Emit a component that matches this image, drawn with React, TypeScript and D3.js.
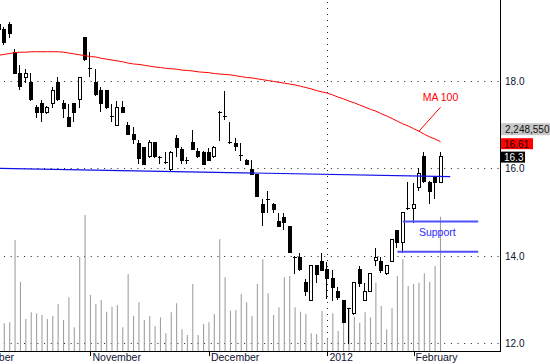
import React from 'react';
import * as d3 from 'd3';

// ---- data (bar index -1 .. 81) ----
const opens = [19.31, 19.18, 19.31, 18.67, 18.19, 18.09, 17.98, 17.40, 17.49, 17.28, 17.49, 17.98, 17.50, 17.18, 17.49, 17.58, 19.00, 18.29, 17.98, 17.79, 17.79, 17.19, 16.99, 17.40, 16.99, 16.79, 16.59, 16.50, 16.28, 16.60, 16.27, 16.15, 15.98, 16.69, 16.44, 16.20, 16.60, 16.39, 16.37, 16.38, 16.28, 17.30, 17.20, 16.60, 16.58, 16.31, 16.19, 15.99, 15.87, 15.18, 15.30, 15.18, 14.79, 14.89, 14.68, 13.98, 13.98, 13.40, 12.99, 13.78, 13.88, 13.69, 13.49, 13.18, 12.99, 12.80, 12.68, 13.69, 12.99, 13.19, 13.89, 13.88, 13.60, 13.88, 14.59, 14.31, 15.09, 15.09, 15.58, 16.28, 15.69, 15.80, 15.69];
const highs = [19.40, 19.24, 19.35, 18.73, 18.37, 18.27, 18.18, 17.45, 17.57, 17.43, 17.86, 18.09, 17.57, 17.47, 17.50, 18.10, 19.01, 18.67, 18.27, 17.86, 17.80, 17.47, 17.55, 17.55, 17.07, 16.95, 16.65, 16.50, 16.65, 16.61, 16.28, 16.37, 16.39, 16.76, 16.50, 16.25, 16.88, 16.46, 16.40, 16.47, 16.51, 17.31, 17.78, 17.07, 16.70, 16.57, 16.21, 16.19, 15.88, 15.29, 15.47, 15.21, 14.98, 14.98, 14.69, 13.99, 14.07, 13.46, 13.79, 13.79, 14.07, 13.86, 13.67, 13.28, 12.99, 12.81, 13.39, 13.76, 13.37, 13.60, 14.17, 13.98, 13.78, 14.38, 14.59, 15.01, 15.69, 15.66, 16.00, 16.38, 15.70, 15.81, 16.38];
const lows = [19.15, 18.85, 19.00, 18.18, 17.81, 17.98, 17.57, 17.18, 17.09, 17.26, 17.40, 17.57, 17.18, 16.97, 17.09, 17.40, 18.49, 18.12, 17.69, 17.31, 17.39, 17.09, 16.99, 17.28, 16.78, 16.59, 16.12, 16.09, 16.27, 16.27, 16.12, 16.12, 15.94, 16.28, 16.12, 16.13, 16.44, 16.26, 16.09, 16.19, 16.26, 16.65, 17.13, 16.58, 16.42, 16.19, 16.09, 15.87, 15.37, 14.70, 15.01, 14.99, 14.68, 14.62, 14.08, 13.61, 13.68, 13.10, 12.98, 13.40, 13.68, 13.02, 12.98, 13.00, 12.48, 11.99, 12.67, 13.31, 12.98, 13.18, 13.79, 13.63, 13.59, 13.87, 14.20, 14.09, 15.07, 14.78, 15.50, 15.69, 15.20, 15.31, 15.69];
const closes = [19.18, 18.89, 19.09, 18.19, 17.89, 18.19, 17.58, 17.28, 17.30, 17.40, 17.79, 17.58, 17.39, 16.98, 17.30, 18.10, 18.50, 18.28, 17.70, 17.49, 17.40, 17.18, 17.40, 17.28, 16.78, 16.67, 16.24, 16.10, 16.60, 16.28, 16.26, 16.13, 16.38, 16.50, 16.19, 16.19, 16.44, 16.28, 16.10, 16.19, 16.50, 17.29, 17.18, 16.59, 16.51, 16.30, 16.10, 15.87, 15.37, 14.99, 15.29, 15.07, 14.69, 14.77, 14.09, 13.97, 13.69, 13.18, 13.79, 13.58, 13.68, 13.48, 13.29, 13.05, 12.49, 12.79, 13.39, 13.38, 13.18, 13.60, 13.98, 13.67, 13.78, 14.38, 14.31, 15.00, 15.08, 15.18, 15.89, 15.70, 15.47, 15.69, 16.28];
const volumes = [600000, 464000, 480000, 1858000, 1160000, 536000, 648000, 631000, 603000, 536000, 586000, 787000, 519000, 899000, 397000, 1579000, 2277000, 938000, 787000, 854000, 658000, 742000, 770000, 397000, 1289000, 586000, 815000, 519000, 586000, 419000, 564000, 296000, 648000, 799000, 363000, 268000, 1122000, 268000, 452000, 480000, 619000, 1870000, 1234000, 675000, 686000, 954000, 815000, 586000, 1122000, 1535000, 966000, 603000, 732000, 1234000, 1256000, 732000, 658000, 619000, 296000, 285000, 675000, 213000, 631000, 335000, 491000, 732000, 574000, 474000, 648000, 564000, 1143000, 753000, 363000, 715000, 1256000, 1535000, 1088000, 1122000, 1143000, 1301000, 1160000, 1423000, 2248550];
const ma100 = [18.59, 18.61, 18.63, 18.65, 18.66, 18.66, 18.67, 18.67, 18.67, 18.67, 18.67, 18.67, 18.66, 18.64, 18.62, 18.60, 18.58, 18.56, 18.55, 18.52, 18.50, 18.48, 18.46, 18.44, 18.41, 18.39, 18.38, 18.36, 18.34, 18.32, 18.31, 18.29, 18.28, 18.27, 18.25, 18.24, 18.23, 18.21, 18.20, 18.19, 18.17, 18.16, 18.15, 18.14, 18.12, 18.10, 18.08, 18.07, 18.05, 18.03, 18.01, 17.99, 17.97, 17.95, 17.93, 17.91, 17.88, 17.85, 17.82, 17.78, 17.75, 17.72, 17.68, 17.63, 17.59, 17.54, 17.50, 17.45, 17.40, 17.35, 17.31, 17.25, 17.20, 17.14, 17.08, 17.02, 16.97, 16.91, 16.85, 16.78, 16.72, 16.67, 16.61];
const firstBar = -1;

const monthLabels = ['October', 'November', 'December', '2012', 'February'];
const monthTickIndex = [-5.5, 16, 38, 60, 76];
const yearBoundaryIndex = 60;
const priceTicks = [12, 14, 16, 18];
const trendLine = [{ i: -0.8, p: 16.0 }, { i: 82.8, p: 15.81 }];
const supportLevels = [14.78, 14.09];
const supportStart = [74, 73];
const supportEnd = 88;
const volumeLabel = '2,248,550';
const maLabelText = 'MA 100';
const maLabelAt = { i: 81, p: 17.54 };
const maLeader = [{ i: 77, p: 16.85 }, { i: 81, p: 17.40 }];
const supportLabelAt = { i: 80.4, p: 14.45 };

const FONT = '"Liberation Sans", Arial, Helvetica, sans-serif';

export default function App() {
  const plotW = 500;
  const plotH = 351;
  const X = d3.scaleLinear().domain([0, 81]).range([4.3, 440.5]);
  const Y = d3.scaleLinear().domain([12, 18]).range([343, 81]);
  const YV = d3.scaleLinear().domain([0, 5877000]).range([plotH, 0]);

  const bars = opens.map((o, k) => ({
    i: k + firstBar, o, h: highs[k], l: lows[k], c: closes[k], v: volumes[k], ma: ma100[k],
  }));
  const last = bars[bars.length - 1];

  const maPath = d3.line<any>().x((d) => X(d.i)).y((d) => Y(d.ma))(bars) || '';
  const trendPath = d3.line<any>().x((d) => X(d.i)).y((d) => Y(d.p))(trendLine) || '';

  const maBoxY = Y(last.ma) - 3.5;
  const closeBoxY = Y(last.c) - 4.5;
  const volBoxY = maBoxY - 15;

  return (
    <svg width={550} height={364} style={{ position: 'absolute', left: 0, top: 0, background: '#fff' }} fontFamily={FONT}>
      <defs>
        <clipPath id="plot"><rect x={0} y={0} width={plotW} height={plotH} /></clipPath>
        <clipPath id="page"><rect x={0} y={0} width={550} height={364} /></clipPath>
      </defs>
      <rect x={0} y={0} width={550} height={364} fill="#fff" />
      <g clipPath="url(#plot)">
        {priceTicks.map((p) => (
          <line key={p} x1={4} x2={plotW} y1={Math.round(Y(p)) + 0.5} y2={Math.round(Y(p)) + 0.5}
            stroke="#222" strokeDasharray="1 5.67" />
        ))}
        <line x1={Math.round(X(yearBoundaryIndex)) + 0.5} x2={Math.round(X(yearBoundaryIndex)) + 0.5} y1={2} y2={plotH}
          stroke="#222" strokeDasharray="1 5" />
        {bars.map((d) => (
          <line key={'v' + d.i} x1={X(d.i)} x2={X(d.i)} y1={YV(d.v)} y2={plotH} stroke="#a0a0a0" strokeWidth={1.1} />
        ))}
        {bars.map((d) => {
          const cx = Math.round(X(d.i));
          const left = cx - 2;
          const t = Math.round(Y(Math.max(d.o, d.c)));
          const b = Math.round(Y(Math.min(d.o, d.c)));
          const up = d.c >= d.o;
          return (
            <g key={'c' + d.i} shapeRendering="crispEdges">
              <line x1={cx - 0.5} x2={cx - 0.5} y1={Math.round(Y(d.h))} y2={Math.round(Y(d.l)) + 1} stroke="#000" />
              {b - t < 2 ? (
                <line x1={left} x2={left + 4} y1={t + 0.5} y2={t + 0.5} stroke="#000" />
              ) : (
                <rect x={left + 0.5} y={t + 0.5} width={3} height={b - t} fill={up ? '#fff' : '#000'} stroke="#000" />
              )}
            </g>
          );
        })}
        <path d={maPath} fill="none" stroke="#ff0000" strokeWidth={1} />
        <path d={trendPath} fill="none" stroke="#1010e8" strokeWidth={1.2} />
        {supportLevels.map((p, k) => (
          <line key={'s' + p} x1={X(supportStart[k])} x2={X(supportEnd)} y1={Y(p)} y2={Y(p)} stroke="#5050ff" strokeWidth={2} />
        ))}
        <line x1={X(maLeader[0].i)} y1={Y(maLeader[0].p)} x2={X(maLeader[1].i)} y2={Y(maLeader[1].p)} stroke="#ff0000" strokeWidth={1} />
        <text x={X(maLabelAt.i)} y={Y(maLabelAt.p)} textAnchor="middle" fontSize={10.5} fill="#ff0000">{maLabelText}</text>
        <text x={X(supportLabelAt.i)} y={Y(supportLabelAt.p)} textAnchor="middle" fontSize={10.5} fill="#2a2aff">Support</text>
      </g>
      {/* axes */}
      <line x1={plotW + 0.5} x2={plotW + 0.5} y1={0} y2={plotH + 1} stroke="#000" />
      <line x1={0} x2={plotW + 1} y1={plotH + 0.5} y2={plotH + 0.5} stroke="#000" />
      <g clipPath="url(#page)">
        {monthTickIndex.map((idx, k) => (
          <g key={'m' + k}>
            <line x1={Math.round(X(idx)) + 0.5} x2={Math.round(X(idx)) + 0.5} y1={plotH} y2={plotH + 5} stroke="#000" />
            <text x={X(idx) + 2} y={361} fontSize={10.5} fill="#101030">{monthLabels[k]}</text>
          </g>
        ))}
      </g>
      {priceTicks.map((p) => (
        <text key={'t' + p} x={505} y={Y(p) + 4} fontSize={10} fill="#101030">{p.toFixed(1)}</text>
      ))}
      {/* right-side value labels */}
      <rect x={501} y={volBoxY} width={49} height={12} fill="#c8c8c8" />
      <text x={505} y={volBoxY + 10} fontSize={10} fill="#111">{volumeLabel}</text>
      <rect x={501} y={maBoxY} width={32} height={11} fill="#ff0000" />
      <text x={504} y={maBoxY + 9.5} fontSize={10} fill="#200000">{last.ma.toFixed(2)}</text>
      <rect x={501} y={closeBoxY} width={24} height={11} fill="#000" />
      <text x={504} y={closeBoxY + 9.5} fontSize={10} fill="#fff">{last.c.toFixed(1)}</text>
    </svg>
  );
}
